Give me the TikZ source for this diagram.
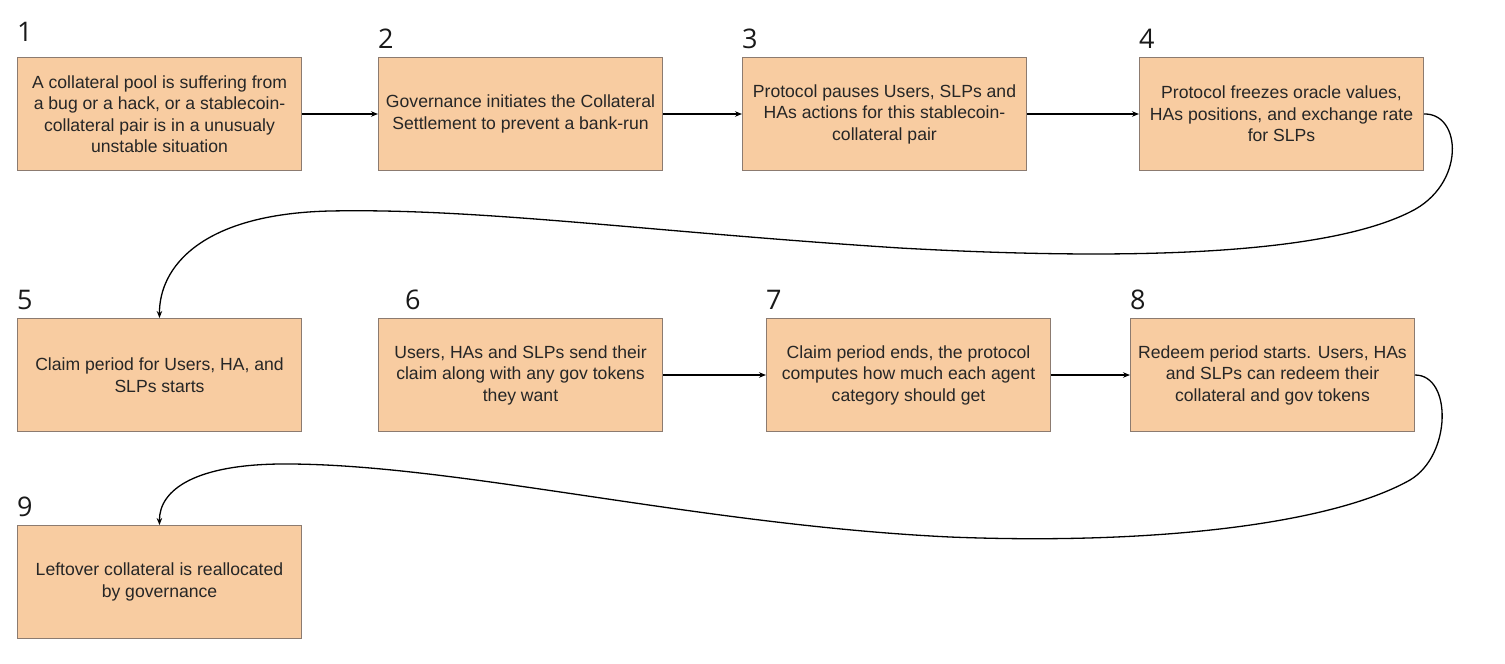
\documentclass[tikz,border=0pt]{standalone}
\usepackage{fontspec}
\setmainfont{Liberation Sans}
\newfontfamily\numfont{Open Sans}
\usetikzlibrary{arrows.meta}
\definecolor{boxfill}{HTML}{F8CCA1}
\definecolor{boxline}{HTML}{8C7B70}
\tikzset{
  stepbox/.style={draw=boxline, line width=1pt, fill=boxfill, minimum width=284pt, minimum height=113pt,
    inner sep=0pt, align=center, font=\fontsize{17.6}{21.5}\selectfont, text=black!85, anchor=north west},
  numlabel/.style={font=\numfont\fontsize{27}{27}\selectfont, text=black!90, anchor=base west, inner sep=0pt},
  conn/.style={line width=1.3pt, -{Stealth[length=7pt,width=5.5pt]}}
}
\begin{document}
\begin{tikzpicture}[x=1pt,y=-1pt]
\useasboundingbox (0,0) rectangle (1505,664);
\node[stepbox] (b1) at (17,57) {A collateral pool is suffering from\\a bug or a hack, or a stablecoin-\\collateral pair is in a unusualy\\unstable situation};
\node[stepbox] (b2) at (378,57) {Governance initiates the Collateral\\Settlement to prevent a bank-run};
\node[stepbox] (b3) at (742,57) {Protocol pauses Users, SLPs and\\HAs actions for this stablecoin-\\collateral pair};
\node[stepbox] (b4) at (1139,57) {Protocol freezes oracle values,\\HAs positions, and exchange rate\\for SLPs};
\node[stepbox] (b5) at (17,318) {Claim period for Users, HA, and\\SLPs starts};
\node[stepbox] (b6) at (378,318) {Users, HAs and SLPs send their\\claim along with any gov tokens\\they want};
\node[stepbox] (b7) at (766,318) {Claim period ends, the protocol\\computes how much each agent\\category should get};
\node[stepbox] (b8) at (1130,318) {Redeem period starts. Users, HAs\\and SLPs can redeem their\\collateral and gov tokens};
\node[stepbox] (b9) at (17,525) {Leftover collateral is reallocated\\by governance};

\node[numlabel] (n1) at (17,41) {1};
\node[numlabel] (n2) at (378,48) {2};
\node[numlabel] (n3) at (742,48) {3};
\node[numlabel] (n4) at (1139,48) {4};
\node[numlabel] (n5) at (17,309) {5};
\node[numlabel] (n6) at (405,309) {6};
\node[numlabel] (n7) at (766,309) {7};
\node[numlabel] (n8) at (1130,309) {8};
\node[numlabel] (n9) at (17,516) {9};

\draw[conn] (b1) -- (b2);
\draw[conn] (b2) -- (b3);
\draw[conn] (b3) -- (b4);
\draw[conn] (b6) -- (b7);
\draw[conn] (b7) -- (b8);
\draw[conn] (b4.east) .. controls (1462,113) and (1466,185) .. (1410,212)
  .. controls (1330,252) and (1150,262) .. (900,248)
  .. controls (650,232) and (480,208) .. (330,211)
  .. controls (200,214) and (159,268) .. (b5.north);
\draw[conn] (b8.east) .. controls (1452,375) and (1452,455) .. (1410,480)
  .. controls (1330,525) and (1150,545) .. (950,537)
  .. controls (700,525) and (460,465) .. (290,464)
  .. controls (195,463) and (159,490) .. (b9.north);
\end{tikzpicture}
\end{document}
